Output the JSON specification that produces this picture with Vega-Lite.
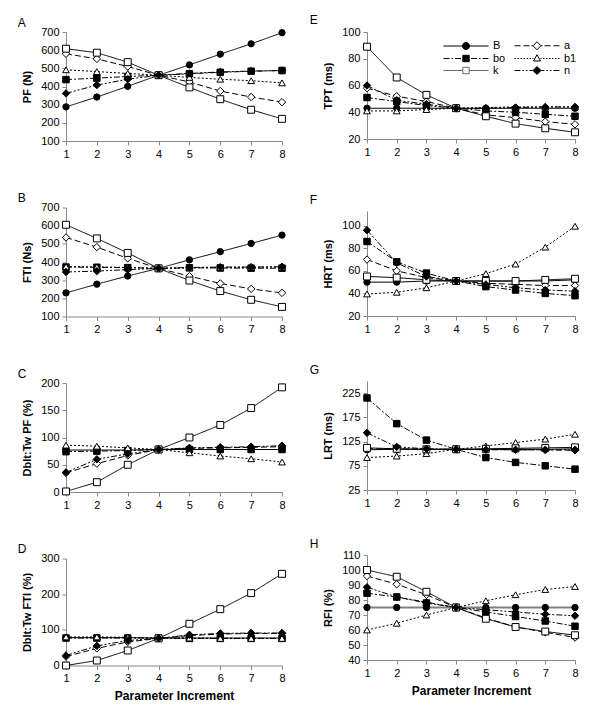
{
  "$schema": "https://vega.github.io/schema/vega-lite/v6.json",
  "background": "white",
  "padding": {"left": 17, "top": 13, "right": 5, "bottom": 5},
  "data": {"values": [
    {"p":"A","x":1,"B":288,"a":580,"bo":438,"b1":492,"k":608,"n":362},
    {"p":"A","x":2,"B":342,"a":552,"bo":446,"b1":482,"k":586,"n":408},
    {"p":"A","x":3,"B":401,"a":510,"bo":455,"b1":472,"k":534,"n":440},
    {"p":"A","x":4,"B":462,"a":462,"bo":462,"b1":462,"k":462,"n":462},
    {"p":"A","x":5,"B":519,"a":425,"bo":470,"b1":450,"k":395,"n":472},
    {"p":"A","x":6,"B":578,"a":375,"bo":478,"b1":440,"k":330,"n":480},
    {"p":"A","x":7,"B":635,"a":342,"bo":484,"b1":432,"k":272,"n":485},
    {"p":"A","x":8,"B":696,"a":314,"bo":488,"b1":420,"k":222,"n":488},
    {"p":"B","x":1,"B":230,"a":535,"bo":372,"b1":375,"k":605,"n":345},
    {"p":"B","x":2,"B":278,"a":482,"bo":371,"b1":373,"k":530,"n":350},
    {"p":"B","x":3,"B":323,"a":420,"bo":369,"b1":370,"k":450,"n":358},
    {"p":"B","x":4,"B":365,"a":365,"bo":365,"b1":365,"k":365,"n":365},
    {"p":"B","x":5,"B":412,"a":322,"bo":368,"b1":368,"k":298,"n":370},
    {"p":"B","x":6,"B":457,"a":282,"bo":367,"b1":370,"k":240,"n":372},
    {"p":"B","x":7,"B":502,"a":252,"bo":366,"b1":372,"k":192,"n":372},
    {"p":"B","x":8,"B":548,"a":230,"bo":366,"b1":372,"k":153,"n":374},
    {"p":"C","x":1,"B":77,"a":35,"bo":74,"b1":86,"k":1,"n":36},
    {"p":"C","x":2,"B":77,"a":52,"bo":75,"b1":84,"k":18,"n":60},
    {"p":"C","x":3,"B":77,"a":67,"bo":76,"b1":81,"k":50,"n":70},
    {"p":"C","x":4,"B":78,"a":78,"bo":78,"b1":78,"k":78,"n":78},
    {"p":"C","x":5,"B":78,"a":80,"bo":78,"b1":72,"k":100,"n":81},
    {"p":"C","x":6,"B":78,"a":81,"bo":78,"b1":66,"k":123,"n":82},
    {"p":"C","x":7,"B":78,"a":82,"bo":78,"b1":61,"k":154,"n":83},
    {"p":"C","x":8,"B":78,"a":83,"bo":78,"b1":55,"k":192,"n":85},
    {"p":"D","x":1,"B":78,"a":25,"bo":77,"b1":80,"k":0,"n":28},
    {"p":"D","x":2,"B":78,"a":48,"bo":77,"b1":80,"k":14,"n":55},
    {"p":"D","x":3,"B":78,"a":66,"bo":77,"b1":79,"k":42,"n":70},
    {"p":"D","x":4,"B":77,"a":76,"bo":77,"b1":77,"k":76,"n":76},
    {"p":"D","x":5,"B":77,"a":84,"bo":76,"b1":77,"k":117,"n":86},
    {"p":"D","x":6,"B":77,"a":88,"bo":76,"b1":76,"k":158,"n":90},
    {"p":"D","x":7,"B":77,"a":90,"bo":76,"b1":76,"k":203,"n":91},
    {"p":"D","x":8,"B":77,"a":90,"bo":76,"b1":76,"k":257,"n":91},
    {"p":"E","x":1,"B":43,"a":58,"bo":51,"b1":41,"k":89,"n":60},
    {"p":"E","x":2,"B":43,"a":52,"bo":48,"b1":41,"k":66,"n":49},
    {"p":"E","x":3,"B":43,"a":48,"bo":45,"b1":42,"k":53,"n":46},
    {"p":"E","x":4,"B":43,"a":43,"bo":43,"b1":43,"k":43,"n":43},
    {"p":"E","x":5,"B":43,"a":38,"bo":41,"b1":43.5,"k":37,"n":43},
    {"p":"E","x":6,"B":43,"a":36,"bo":40,"b1":44,"k":31.5,"n":43.5},
    {"p":"E","x":7,"B":43,"a":33,"bo":38.5,"b1":44,"k":28,"n":44},
    {"p":"E","x":8,"B":43,"a":31,"bo":37,"b1":44,"k":25,"n":44},
    {"p":"F","x":1,"B":50,"a":70,"bo":86,"b1":39.5,"k":55,"n":96},
    {"p":"F","x":2,"B":50,"a":60,"bo":68,"b1":41,"k":54,"n":67},
    {"p":"F","x":3,"B":51,"a":54,"bo":58,"b1":45,"k":52,"n":55},
    {"p":"F","x":4,"B":51,"a":51,"bo":51,"b1":51,"k":51,"n":51},
    {"p":"F","x":5,"B":51,"a":49,"bo":46,"b1":57.5,"k":51,"n":48},
    {"p":"F","x":6,"B":51,"a":48,"bo":43,"b1":66,"k":51,"n":45},
    {"p":"F","x":7,"B":51,"a":47,"bo":40,"b1":81,"k":52,"n":43},
    {"p":"F","x":8,"B":52,"a":47,"bo":38,"b1":99.5,"k":53,"n":42},
    {"p":"G","x":1,"B":108,"a":110,"bo":215,"b1":92,"k":112,"n":143},
    {"p":"G","x":2,"B":109,"a":110,"bo":162,"b1":95,"k":110,"n":114},
    {"p":"G","x":3,"B":109,"a":109,"bo":128,"b1":100,"k":109,"n":110},
    {"p":"G","x":4,"B":109,"a":109,"bo":109,"b1":109,"k":109,"n":109},
    {"p":"G","x":5,"B":109,"a":109,"bo":92,"b1":116,"k":110,"n":108},
    {"p":"G","x":6,"B":109,"a":108,"bo":82,"b1":123,"k":111,"n":108},
    {"p":"G","x":7,"B":109,"a":108,"bo":75,"b1":130,"k":112,"n":108},
    {"p":"G","x":8,"B":110,"a":107,"bo":68,"b1":140,"k":113,"n":108},
    {"p":"H","x":1,"B":75,"a":96,"bo":84.5,"b1":60,"k":100,"n":88.5},
    {"p":"H","x":2,"B":75,"a":90.5,"bo":82,"b1":64.5,"k":95.5,"n":82},
    {"p":"H","x":3,"B":75,"a":83.5,"bo":78,"b1":70,"k":85.5,"n":78.5},
    {"p":"H","x":4,"B":75,"a":75,"bo":75,"b1":75,"k":75,"n":75},
    {"p":"H","x":5,"B":75,"a":68,"bo":72,"b1":79.5,"k":67.5,"n":73.5},
    {"p":"H","x":6,"B":75,"a":62,"bo":69,"b1":83.5,"k":62,"n":72},
    {"p":"H","x":7,"B":75,"a":58.5,"bo":66,"b1":87,"k":59,"n":70.5},
    {"p":"H","x":8,"B":75,"a":55,"bo":62.5,"b1":89,"k":56.5,"n":69.5}
  ]},
  "spacing": 21,
  "resolve": {"scale": {"x": "independent", "y": "independent", "shape": "independent", "fill": "independent", "size": "independent", "strokeDash": "independent", "stroke": "independent", "strokeWidth": "independent"}},
  "hconcat": [
    {
      "spacing": 32.5,
      "resolve": {"scale": {"x": "independent", "y": "independent", "shape": "independent", "fill": "independent", "size": "independent", "strokeDash": "independent", "stroke": "independent", "strokeWidth": "independent"}},
      "vconcat": [
        {
          "width": 216, "height": 109,
          "title": {"text": "A", "dx": -4, "offset": -3.5},
          "transform": [{"filter": "datum.p == 'A'"}, {"fold": ["B","a","bo","b1","k","n"], "as": ["s","v"]}],
          "encoding": {
            "x": {"field": "x", "type": "quantitative", "scale": {"domain": [1,8], "nice": false, "zero": false}, "axis": {"values": [1,2,3,4,5,6,7,8], "title": null}},
            "y": {"field": "v", "type": "quantitative", "scale": {"domain": [100,700], "nice": false, "zero": false}, "axis": {"values": [100,200,300,400,500,600,700], "title": "PF (N)"}}
          },
          "layer": [
            {"mark": {"type": "line", "color": "black", "strokeWidth": 1}, "encoding": {"strokeDash": {"field": "s", "type": "nominal", "scale": {"domain": ["B","a","bo","b1","k","n"], "range": [[1,0],[6,3],[6,2,2,2],[2,2],[1,0],[6,2,2,2,2,2]]}, "legend": null}}},
            {"mark": {"type": "point", "filled": true, "stroke": "black", "strokeWidth": 1, "opacity": 1}, "encoding": {
              "shape": {"field": "s", "type": "nominal", "scale": {"domain": ["B","a","bo","b1","k","n"], "range": ["circle","diamond","square","triangle-up","square","diamond"]}, "legend": null},
              "fill": {"field": "s", "type": "nominal", "scale": {"domain": ["B","a","bo","b1","k","n"], "range": ["black","white","black","white","white","black"]}, "legend": null},
              "size": {"field": "s", "type": "ordinal", "scale": {"type": "ordinal", "domain": ["B","a","bo","b1","k","n"], "range": [40,55,42,45,48,55]}, "legend": null}}}
          ]
        },
        {
          "width": 216, "height": 109,
          "title": {"text": "B", "dx": -4, "offset": -3.5},
          "transform": [{"filter": "datum.p == 'B'"}, {"fold": ["B","a","bo","b1","k","n"], "as": ["s","v"]}],
          "encoding": {
            "x": {"field": "x", "type": "quantitative", "scale": {"domain": [1,8], "nice": false, "zero": false}, "axis": {"values": [1,2,3,4,5,6,7,8], "title": null}},
            "y": {"field": "v", "type": "quantitative", "scale": {"domain": [100,700], "nice": false, "zero": false}, "axis": {"values": [100,200,300,400,500,600,700], "title": "FTI  (Ns)"}}
          },
          "layer": [
            {"mark": {"type": "line", "color": "black", "strokeWidth": 1}, "encoding": {"strokeDash": {"field": "s", "type": "nominal", "scale": {"domain": ["B","a","bo","b1","k","n"], "range": [[1,0],[6,3],[6,2,2,2],[2,2],[1,0],[6,2,2,2,2,2]]}, "legend": null}}},
            {"mark": {"type": "point", "filled": true, "stroke": "black", "strokeWidth": 1, "opacity": 1}, "encoding": {
              "shape": {"field": "s", "type": "nominal", "scale": {"domain": ["B","a","bo","b1","k","n"], "range": ["circle","diamond","square","triangle-up","square","diamond"]}, "legend": null},
              "fill": {"field": "s", "type": "nominal", "scale": {"domain": ["B","a","bo","b1","k","n"], "range": ["black","white","black","white","white","black"]}, "legend": null},
              "size": {"field": "s", "type": "ordinal", "scale": {"type": "ordinal", "domain": ["B","a","bo","b1","k","n"], "range": [40,55,42,45,48,55]}, "legend": null}}}
          ]
        },
        {
          "width": 216, "height": 109,
          "title": {"text": "C", "dx": -4, "offset": -3.5},
          "transform": [{"filter": "datum.p == 'C'"}, {"fold": ["B","a","bo","b1","k","n"], "as": ["s","v"]}],
          "encoding": {
            "x": {"field": "x", "type": "quantitative", "scale": {"domain": [1,8], "nice": false, "zero": false}, "axis": {"values": [1,2,3,4,5,6,7,8], "title": null}},
            "y": {"field": "v", "type": "quantitative", "scale": {"domain": [0,200], "nice": false, "zero": false}, "axis": {"values": [0,50,100,150,200], "title": "Dblt:Tw PF (%)"}}
          },
          "layer": [
            {"mark": {"type": "line", "color": "black", "strokeWidth": 1}, "encoding": {"strokeDash": {"field": "s", "type": "nominal", "scale": {"domain": ["B","a","bo","b1","k","n"], "range": [[1,0],[6,3],[6,2,2,2],[2,2],[1,0],[6,2,2,2,2,2]]}, "legend": null}}},
            {"mark": {"type": "point", "filled": true, "stroke": "black", "strokeWidth": 1, "opacity": 1}, "encoding": {
              "shape": {"field": "s", "type": "nominal", "scale": {"domain": ["B","a","bo","b1","k","n"], "range": ["circle","diamond","square","triangle-up","square","diamond"]}, "legend": null},
              "fill": {"field": "s", "type": "nominal", "scale": {"domain": ["B","a","bo","b1","k","n"], "range": ["black","white","black","white","white","black"]}, "legend": null},
              "size": {"field": "s", "type": "ordinal", "scale": {"type": "ordinal", "domain": ["B","a","bo","b1","k","n"], "range": [40,55,42,45,48,55]}, "legend": null}}}
          ]
        },
        {
          "width": 216, "height": 107,
          "title": {"text": "D", "dx": -4, "offset": -3.5},
          "transform": [{"filter": "datum.p == 'D'"}, {"fold": ["B","a","bo","b1","k","n"], "as": ["s","v"]}],
          "encoding": {
            "x": {"field": "x", "type": "quantitative", "scale": {"domain": [1,8], "nice": false, "zero": false}, "axis": {"values": [1,2,3,4,5,6,7,8], "title": "Parameter Increment", "titleFontSize": 12, "titlePadding": 7}},
            "y": {"field": "v", "type": "quantitative", "scale": {"domain": [0,300], "nice": false, "zero": false}, "axis": {"values": [0,100,200,300], "title": "Dblt:Tw FTI (%)"}}
          },
          "layer": [
            {"mark": {"type": "line", "color": "black", "strokeWidth": 1}, "encoding": {"strokeDash": {"field": "s", "type": "nominal", "scale": {"domain": ["B","a","bo","b1","k","n"], "range": [[1,0],[6,3],[6,2,2,2],[2,2],[1,0],[6,2,2,2,2,2]]}, "legend": null}}},
            {"mark": {"type": "point", "filled": true, "stroke": "black", "strokeWidth": 1, "opacity": 1}, "encoding": {
              "shape": {"field": "s", "type": "nominal", "scale": {"domain": ["B","a","bo","b1","k","n"], "range": ["circle","diamond","square","triangle-up","square","diamond"]}, "legend": null},
              "fill": {"field": "s", "type": "nominal", "scale": {"domain": ["B","a","bo","b1","k","n"], "range": ["black","white","black","white","white","black"]}, "legend": null},
              "size": {"field": "s", "type": "ordinal", "scale": {"type": "ordinal", "domain": ["B","a","bo","b1","k","n"], "range": [40,55,42,45,48,55]}, "legend": null}}}
          ]
        }
      ]
    },
    {
      "spacing": 29,
      "resolve": {"scale": {"x": "independent", "y": "independent", "shape": "independent", "fill": "independent", "size": "independent", "strokeDash": "independent", "stroke": "independent", "strokeWidth": "independent"}},
      "vconcat": [
        {
          "width": 208, "height": 107,
          "title": {"text": "E", "dx": -13, "offset": -8.5, "dy": -8},
          "transform": [{"filter": "datum.p == 'E'"}, {"fold": ["B","a","bo","b1","k","n"], "as": ["s","v"]}],
          "encoding": {
            "x": {"field": "x", "type": "quantitative", "scale": {"domain": [1,8], "nice": false, "zero": false}, "axis": {"values": [1,2,3,4,5,6,7,8], "title": " ", "titleFontSize": 2, "titlePadding": 5}},
            "y": {"field": "v", "type": "quantitative", "scale": {"domain": [20,100], "nice": false, "zero": false}, "axis": {"values": [20,40,60,80,100], "title": "TPT (ms)"}}
          },
          "layer": [
            {"mark": {"type": "line", "color": "black", "strokeWidth": 1}, "encoding": {"strokeDash": {"field": "s", "type": "nominal", "scale": {"domain": ["B","a","bo","b1","k","n"], "range": [[1,0],[6,3],[6,2,2,2],[2,2],[1,0],[6,2,2,2,2,2]]}, "legend": null}}},
            {"transform": [{"filter": "datum.s == 'B'"}], "mark": {"type": "point", "shape": "circle", "filled": true, "fill": "black", "stroke": "black", "strokeWidth": 1, "opacity": 1, "size": 40}},
            {"transform": [{"filter": "datum.s == 'a'"}], "mark": {"type": "point", "shape": "diamond", "filled": true, "fill": "white", "stroke": "black", "strokeWidth": 1, "opacity": 1, "size": 55}},
            {"transform": [{"filter": "datum.s == 'bo'"}], "mark": {"type": "point", "shape": "square", "filled": true, "fill": "black", "stroke": "black", "strokeWidth": 1, "opacity": 1, "size": 42}},
            {"transform": [{"filter": "datum.s == 'b1'"}], "mark": {"type": "point", "shape": "triangle-up", "filled": true, "fill": "white", "stroke": "black", "strokeWidth": 1, "opacity": 1, "size": 45}},
            {"transform": [{"filter": "datum.s == 'k'"}], "mark": {"type": "point", "shape": "square", "filled": true, "fill": "white", "stroke": "black", "strokeWidth": 1, "opacity": 1, "size": 48}},
            {"transform": [{"filter": "datum.s == 'n'"}], "mark": {"type": "point", "shape": "diamond", "filled": true, "fill": "black", "stroke": "black", "strokeWidth": 1, "opacity": 1, "size": 55}},
            {"mark": {"type": "point", "filled": true, "strokeWidth": 1, "opacity": 0, "size": 100}, "encoding": {
              "shape": {"field": "s", "type": "nominal", "scale": {"domain": ["B","bo","k","a","b1","n"], "range": [
                "M-1,0H2.8M4.2,0H8M4.2,0C4.2,0.387 3.887,0.7 3.5,0.7C3.113,0.7 2.8,0.387 2.8,0C2.8,-0.387 3.113,-0.7 3.5,-0.7C3.887,-0.7 4.2,-0.387 4.2,0Z",
                "M-1,0H0.2M0.6,0H0.9M1.3,0H2.5M4.5,0H5.7M6.1,0H6.4M6.8,0H8M2.86,-0.64H4.14V0.64H2.86Z",
                "M-1,0H2.86M4.14,0H8M2.86,-0.64H4.14V0.64H2.86Z",
                "M-1,0H0.2M0.8,0H2M2.4,0H2.7M4.3,0H4.6M5,0H6.2M6.8,0H8M2.7,0L3.5,-0.8L4.3,0L3.5,0.8Z",
                "M-1,0H-0.7M-0.4,0H-0.1M0.2,0H0.5M0.8,0H1.1M1.4,0H1.7M2,0H2.3M2.6,0H2.8M4.2,0H4.4M4.7,0H5M5.3,0H5.6M5.9,0H6.2M6.5,0H6.8M7.1,0H7.4M7.7,0H8M3.5,-0.75L4.2,0.5L2.8,0.5Z",
                "M-1,0H0.2M0.6,0H0.9M1.3,0H1.6M2,0H2.7M4.3,0H5M5.4,0H5.7M6.1,0H6.4M6.8,0H8M2.7,0L3.5,-0.8L4.3,0L3.5,0.8Z"
              ]}, "legend": {"title": null, "orient": "none", "legendX": 76, "legendY": 8, "columns": 2, "symbolSize": 100, "labelOffset": 39, "labelFont": "Liberation Sans", "labelFontSize": 11, "labelColor": "black", "rowPadding": 0, "columnPadding": 6, "symbolStrokeWidth": 1, "symbolOpacity": 1, "padding": 0, "symbolLimit": 0, "encode": {"symbols": {"update": {"opacity": {"value": 1}}}}}},
              "fill": {"field": "s", "type": "nominal", "scale": {"domain": ["B","bo","k","a","b1","n"], "range": ["black","black","white","white","white","black"]}, "legend": {"title": null}},
              "stroke": {"field": "s", "type": "nominal", "scale": {"domain": ["B","bo","k","a","b1","n"], "range": ["black","black","#666666","black","black","black"]}, "legend": {"title": null}}}}
          ]
        },
        {
          "width": 208, "height": 105,
          "title": {"text": "F", "dx": -13, "offset": 4.5},
          "transform": [{"filter": "datum.p == 'F'"}, {"fold": ["B","a","bo","b1","k","n"], "as": ["s","v"]}],
          "encoding": {
            "x": {"field": "x", "type": "quantitative", "scale": {"domain": [1,8], "nice": false, "zero": false}, "axis": {"values": [1,2,3,4,5,6,7,8], "title": null}},
            "y": {"field": "v", "type": "quantitative", "scale": {"domain": [20,113], "nice": false, "zero": false}, "axis": {"values": [20,40,60,80,100], "title": "HRT (ms)"}}
          },
          "layer": [
            {"mark": {"type": "line", "color": "black", "strokeWidth": 1}, "encoding": {"strokeDash": {"field": "s", "type": "nominal", "scale": {"domain": ["B","a","bo","b1","k","n"], "range": [[1,0],[6,3],[6,2,2,2],[2,2],[1,0],[6,2,2,2,2,2]]}, "legend": null}}},
            {"mark": {"type": "point", "filled": true, "stroke": "black", "strokeWidth": 1, "opacity": 1}, "encoding": {
              "shape": {"field": "s", "type": "nominal", "scale": {"domain": ["B","a","bo","b1","k","n"], "range": ["circle","diamond","square","triangle-up","square","diamond"]}, "legend": null},
              "fill": {"field": "s", "type": "nominal", "scale": {"domain": ["B","a","bo","b1","k","n"], "range": ["black","white","black","white","white","black"]}, "legend": null},
              "size": {"field": "s", "type": "ordinal", "scale": {"type": "ordinal", "domain": ["B","a","bo","b1","k","n"], "range": [40,55,42,45,48,55]}, "legend": null}}}
          ]
        },
        {
          "width": 208, "height": 109,
          "title": {"text": "G", "dx": -13, "offset": 4.5},
          "transform": [{"filter": "datum.p == 'G'"}, {"fold": ["B","a","bo","b1","k","n"], "as": ["s","v"]}],
          "encoding": {
            "x": {"field": "x", "type": "quantitative", "scale": {"domain": [1,8], "nice": false, "zero": false}, "axis": {"values": [1,2,3,4,5,6,7,8], "title": null}},
            "y": {"field": "v", "type": "quantitative", "scale": {"domain": [25,250], "nice": false, "zero": false}, "axis": {"values": [25,75,125,175,225], "title": "LRT (ms)"}}
          },
          "layer": [
            {"mark": {"type": "line", "color": "black", "strokeWidth": 1}, "encoding": {"strokeDash": {"field": "s", "type": "nominal", "scale": {"domain": ["B","a","bo","b1","k","n"], "range": [[1,0],[6,3],[6,2,2,2],[2,2],[1,0],[6,2,2,2,2,2]]}, "legend": null}}},
            {"mark": {"type": "point", "filled": true, "stroke": "black", "strokeWidth": 1, "opacity": 1}, "encoding": {
              "shape": {"field": "s", "type": "nominal", "scale": {"domain": ["B","a","bo","b1","k","n"], "range": ["circle","diamond","square","triangle-up","square","diamond"]}, "legend": null},
              "fill": {"field": "s", "type": "nominal", "scale": {"domain": ["B","a","bo","b1","k","n"], "range": ["black","white","black","white","white","black"]}, "legend": null},
              "size": {"field": "s", "type": "ordinal", "scale": {"type": "ordinal", "domain": ["B","a","bo","b1","k","n"], "range": [40,55,42,45,48,55]}, "legend": null}}}
          ]
        },
        {
          "width": 208, "height": 105,
          "title": {"text": "H", "dx": -13},
          "transform": [{"filter": "datum.p == 'H'"}, {"fold": ["B","a","bo","b1","k","n"], "as": ["s","v"]}],
          "encoding": {
            "x": {"field": "x", "type": "quantitative", "scale": {"domain": [1,8], "nice": false, "zero": false}, "axis": {"values": [1,2,3,4,5,6,7,8], "title": "Parameter Increment", "titleFontSize": 12, "titlePadding": 7}},
            "y": {"field": "v", "type": "quantitative", "scale": {"domain": [40,110], "nice": false, "zero": false}, "axis": {"values": [40,50,60,70,80,90,100,110], "title": "RFI (%)"}}
          },
          "layer": [
            {"mark": {"type": "line"}, "encoding": {
              "strokeDash": {"field": "s", "type": "nominal", "scale": {"domain": ["B","a","bo","b1","k","n"], "range": [[1,0],[6,3],[6,2,2,2],[2,2],[1,0],[6,2,2,2,2,2]]}, "legend": null},
              "stroke": {"field": "s", "type": "nominal", "scale": {"domain": ["B","a","bo","b1","k","n"], "range": ["#808080","black","black","black","black","black"]}, "legend": null},
              "strokeWidth": {"field": "s", "type": "ordinal", "scale": {"type": "ordinal", "domain": ["B","a","bo","b1","k","n"], "range": [2,1,1,1,1,1]}, "legend": null}}},
            {"mark": {"type": "point", "filled": true, "stroke": "black", "strokeWidth": 1, "opacity": 1}, "encoding": {
              "shape": {"field": "s", "type": "nominal", "scale": {"domain": ["B","a","bo","b1","k","n"], "range": ["circle","diamond","square","triangle-up","square","diamond"]}, "legend": null},
              "fill": {"field": "s", "type": "nominal", "scale": {"domain": ["B","a","bo","b1","k","n"], "range": ["black","white","black","white","white","black"]}, "legend": null},
              "size": {"field": "s", "type": "ordinal", "scale": {"type": "ordinal", "domain": ["B","a","bo","b1","k","n"], "range": [40,55,42,45,48,55]}, "legend": null}}}
          ]
        }
      ]
    }
  ],
  "config": {
    "font": "Liberation Sans",
    "view": {"stroke": null},
    "axis": {"grid": false, "domainColor": "#888888", "tickColor": "#888888", "tickSize": 4, "labelFont": "Liberation Sans", "labelFontSize": 11, "labelColor": "#000000", "labelPadding": 3, "titleFont": "Liberation Sans", "titleFontSize": 11, "titleFontWeight": "bold", "titleColor": "#000000", "titlePadding": 8, "labelFlush": false, "labelOverlap": false, "labelAngle": 0},
    "title": {"font": "Liberation Sans", "fontSize": 12, "fontWeight": "normal", "anchor": "start", "frame": "bounds", "offset": -1.5, "baseline": "alphabetic", "color": "#000000"}
  }
}
